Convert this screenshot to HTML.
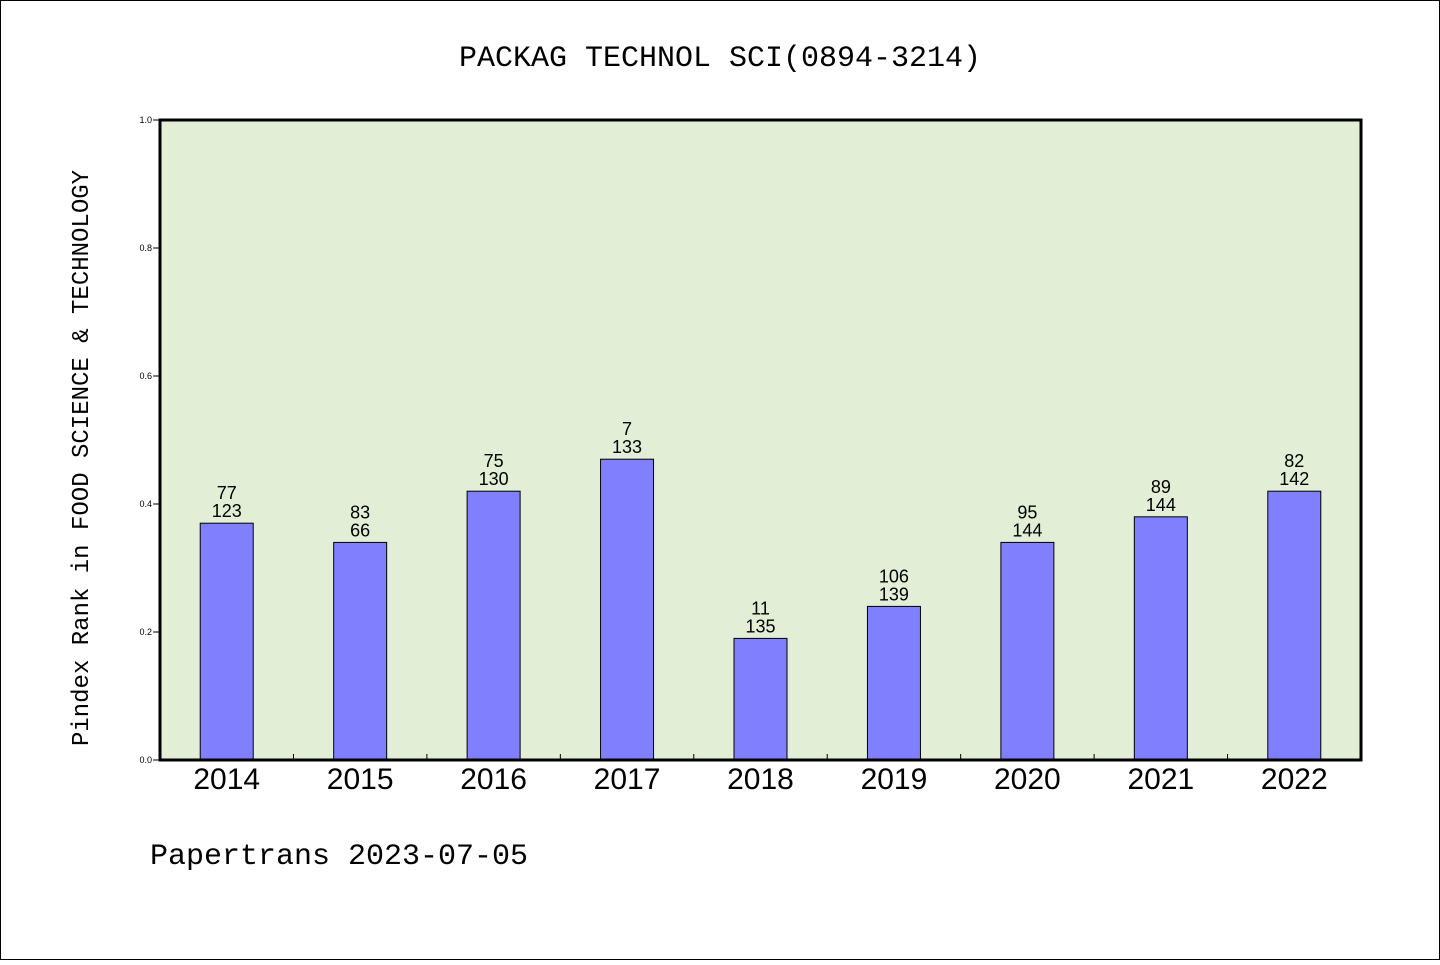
<!DOCTYPE html>
<html><head><meta charset="utf-8"><style>
body{margin:0;width:1440px;height:960px;background:#fff;overflow:hidden}
svg text{font-family:"Liberation Sans","WenQuanYi Zen Hei",sans-serif}
.m{font-family:"WenQuanYi Zen Hei","Liberation Mono",monospace !important}
</style></head><body>
<svg width="1440" height="960" id="c">
<rect x="0.5" y="0.5" width="1439" height="959" fill="#fff" stroke="#000"/>
<text class="m" x="720" y="66" font-size="30" text-anchor="middle">PACKAG TECHNOL SCI(0894-3214)</text>
<rect x="160" y="120" width="1201" height="640" fill="#e2efd6"/>
<g id="g"></g>
<rect x="160" y="120" width="1201" height="640" fill="none" stroke="#000" stroke-width="3"/>
<text class="m" transform="translate(88,458) rotate(-90)" font-size="24" text-anchor="middle">Pindex Rank in FOOD SCIENCE &amp; TECHNOLOGY</text>
<text class="m" x="150" y="864" font-size="30">Papertrans 2023-07-05</text>
</svg>
<script>
const years=["2014","2015","2016","2017","2018","2019","2020","2021","2022"];
const values=[0.37,0.34,0.42,0.47,0.19,0.24,0.34,0.38,0.42];
const topLabels=["77","83","75","7","11","106","95","89","82"];
const bottomLabels=["123","66","130","133","135","139","144","144","142"];
const yTicks=[0,0.2,0.4,0.6,0.8,1.0];
const X0=160,W=1201,Y0=760,H=640;
const step=W/years.length;
const xc=i=>X0+step*(i+0.5);
const y=v=>Y0-v*H;
const g=document.getElementById('g');
const NS='http://www.w3.org/2000/svg';
function mk(t,a){const e=document.createElementNS(NS,t);for(const k in a)e.setAttribute(k,a[k]);g.appendChild(e);return e;}
yTicks.forEach(t=>{
 const l=mk('line',{x1:153,x2:160,y1:y(t),y2:y(t),stroke:'#000'});
 
 
 const tx=mk('text',{x:152,y:y(t)+3,'font-size':9,'text-anchor':'end'});
 
 
 tx.textContent=t.toFixed(1);
});
for(let i=1;i<years.length;i++){
 const l=mk('line',{x1:X0+step*i,x2:X0+step*i,y1:Y0,y2:Y0-6,stroke:'#000'});
 
 
}
years.forEach((yr,i)=>{
 const bw=53;
 const r=mk('rect',{x:xc(i)-bw/2,y:y(values[i]),width:bw,height:Y0-y(values[i]),fill:'#8080ff',stroke:'#000','stroke-width':1});
 
 
 const t1=mk('text',{x:xc(i),y:y(values[i])-24,'font-size':18,'text-anchor':'middle'});
 
 
 t1.textContent=topLabels[i];
 const t2=mk('text',{x:xc(i),y:y(values[i])-6,'font-size':18,'text-anchor':'middle'});
 
 
 t2.textContent=bottomLabels[i];
 const xl=mk('text',{x:xc(i),y:789,'font-size':30,'text-anchor':'middle'});
 
 
 xl.textContent=yr;
});
</script>
</body></html>
